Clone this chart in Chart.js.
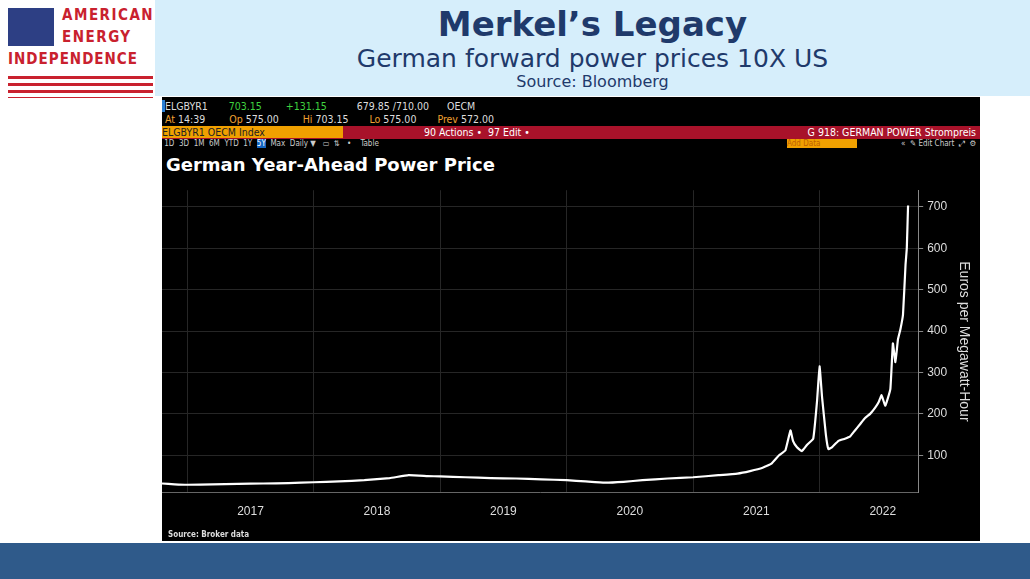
<!DOCTYPE html>
<html><head><meta charset="utf-8">
<script src="https://cdn.jsdelivr.net/npm/chart.js"></script>
<style>
body{margin:0;width:1030px;height:579px;background:#fff;font-family:"DejaVu Sans Condensed","Liberation Sans",sans-serif;position:relative;overflow:hidden}
#titlebox{position:absolute;left:155px;top:0;width:875px;height:96px;background:#d6eefb;text-align:center}
#t1{font:bold 34px "DejaVu Sans",sans-serif;color:#1f3a6b;margin-top:4px}
#t2{font:25px "DejaVu Sans",sans-serif;color:#1f3a6b;margin-top:0px}
#t3{font:16px "DejaVu Sans",sans-serif;color:#1f3a6b;margin-top:-1px}
#logo{position:absolute;left:8px;top:6px;width:145px}
#flag{position:absolute;left:0;top:2px;width:46px;height:38px;background:#2d3f84}
.lt{position:absolute;left:54px;font:bold 15px "DejaVu Sans Condensed",sans-serif;color:#c9212e;letter-spacing:1.5px}
#lines{position:absolute;left:0;top:70px;width:145px;height:22px;background:repeating-linear-gradient(#c9212e 0 3px,#fff 3px 7px)}
#bb{position:absolute;left:162px;top:97px;width:818px;height:444px;background:#000;color:#ddd}
.r{position:absolute;left:0;width:818px;font-size:10.5px;white-space:pre}
#bottom{position:absolute;left:0;top:543px;width:1030px;height:36px;background:#2f5a8a}
#wrap{position:absolute;left:0;top:82px;width:818px;height:352px}
</style></head><body>
<div id="logo"><div id="flag"></div>
<div class="lt" style="top:0">AMERICAN</div>
<div class="lt" style="top:22px">ENERGY</div>
<div class="lt" style="left:0;top:44px;letter-spacing:1px">INDEPENDENCE</div>
<div id="lines"></div></div>
<div id="titlebox"><div id="t1">Merkel’s Legacy</div><div id="t2">German forward power prices 10X US</div><div id="t3">Source: Bloomberg</div></div>
<div id="bb">
<div class="r" style="top:3px"><span style="background:#2a7fd4"> </span>ELGBYR1       <span style="color:#3fd13f">703.15</span>        <span style="color:#3fd13f">+131.15</span>          679.85 /710.00      OECM</div>
<div class="r" style="top:16px;color:#f0a030"> At <span style="color:#ddd">14:39</span>        Op <span style="color:#ddd">575.00</span>        Hi <span style="color:#ddd">703.15</span>       Lo <span style="color:#ddd">575.00</span>       Prev <span style="color:#ddd">572.00</span></div>
<div class="r" style="top:29px;height:13px;background:#a8122a;color:#fff"><span style="background:#f0a000;color:#222">ELGBYR1 OECM Index                          </span>                           90 Actions •  97 Edit •<span style="position:absolute;right:4px">G 918: GERMAN POWER Strompreis</span></div>
<div class="r" style="top:42px;font-size:8px;color:#ccc"> 1D  3D  1M  6M  YTD  1Y  <span style="background:#1565c0;color:#fff">5Y</span>  Max  Daily ▼   ▭  ⇅   •    Table<span style="position:absolute;left:625px;width:70px;background:#f0a000;color:#c06000">Add Data</span><span style="position:absolute;right:4px">«  ✎ Edit Chart  ⤢  ⚙</span></div>
<div style="position:absolute;left:4px;top:57px;font:bold 18px 'DejaVu Sans',sans-serif;color:#fff">German Year-Ahead Power Price</div>
<div id="wrap"><canvas id="c"></canvas></div>
<div style="position:absolute;left:6px;top:433px;font-size:8px;color:#ddd;font-weight:bold">Source: Broker data</div>
</div>
<div id="bottom"></div>
<script>
const dates = [2016.8,2016.9,2017.0,2017.2,2017.4,2017.6,2017.8,2018.0,2018.2,2018.4,2018.6,2018.75,2018.9,2019.0,2019.2,2019.4,2019.6,2019.8,2020.0,2020.15,2020.3,2020.45,2020.6,2020.8,2021.0,2021.2,2021.35,2021.45,2021.55,2021.62,2021.68,2021.73,2021.77,2021.79,2021.82,2021.86,2021.9,2021.95,2021.98,2022.0,2022.02,2022.05,2022.07,2022.1,2022.15,2022.2,2022.24,2022.28,2022.32,2022.36,2022.4,2022.44,2022.47,2022.49,2022.52,2022.56,2022.58,2022.6,2022.62,2022.64,2022.66,2022.68,2022.69,2022.70];
const prices = [32,30,29,30,31,32,33,35,37,40,45,52,50,49,47,45,44,42,40,37,34,36,40,44,47,52,56,62,70,80,100,112,160,135,120,110,125,140,230,315,240,150,115,120,135,140,145,160,175,190,200,215,230,245,220,260,370,325,380,405,440,560,600,703];
const yearLabels = ['2017','2018','2019','2020','2021','2022'];
const yTicks = [100,200,300,400,500,600,700];

new Chart(document.getElementById('c'), {
  type: 'line',
  data: { datasets: [{ data: dates.map((d,i)=>({x:d,y:prices[i]})), borderColor:'#fff', borderWidth:2.2, pointRadius:0, tension:0.1 }] },
  options: {
    responsive:true, maintainAspectRatio:false, animation:false,
    layout:{padding:{left:0,right:4,top:0,bottom:0}},
    plugins:{legend:{display:false},tooltip:{enabled:false}},
    scales:{
      x:{type:'linear',min:2016.8,max:2022.78,
        afterBuildTicks:a=>{a.ticks=[];yearLabels.forEach((y,i)=>{a.ticks.push({value:2017+i});a.ticks.push({value:2017.5+i});});},
        grid:{color:c=>Number.isInteger(c.tick.value)?'#262626':'rgba(0,0,0,0)',drawTicks:false},
        border:{color:'#666'},
        ticks:{color:'#ddd',font:{size:12},padding:12,maxRotation:0,autoSkip:false,callback:v=>Number.isInteger(v)?'':String(Math.floor(v))}},
      y:{position:'right',min:10,max:740,
        afterBuildTicks:a=>{a.ticks=yTicks.map(v=>({value:v}));},
        grid:{color:'#262626',tickColor:'#888',tickLength:5},
        border:{color:'#888'},
        ticks:{color:'#ddd',font:{size:12},padding:4},
        title:{display:true,text:'Euros per Megawatt-Hour',color:'#ddd',font:{size:14}}}
    }
  }
});
</script>
</body></html>
